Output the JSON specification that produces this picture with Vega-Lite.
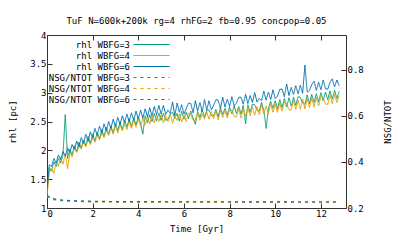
{
  "$schema": "https://vega.github.io/schema/vega-lite/v6.json",
  "width": 299,
  "height": 173,
  "autosize": "none",
  "padding": {"left": 47, "top": 35, "right": 61, "bottom": 36},
  "background": "white",
  "title": {"text": "TuF N=600k+200k rg=4 rhFG=2 fb=0.95 concpop=0.05", "font": "DejaVu Sans Mono", "fontSize": 9, "fontWeight": "normal", "color": "#000", "anchor": "middle", "offset": 5},
  "config": {
    "view": {"stroke": "#333", "strokeWidth": 1},
    "axis": {"labelFont": "DejaVu Sans Mono", "labelFontSize": 9, "titleFont": "DejaVu Sans Mono", "titleFontSize": 9, "titleFontWeight": "normal", "labelColor": "#000", "titleColor": "#000", "tickColor": "#333", "domain": false, "grid": false, "tickSize": -5, "labelPadding": 6},
    "legend": {"labelFont": "DejaVu Sans Mono", "labelFontSize": 9, "labelColor": "#000"}
  },
  "datasets": {
    "rhl": [
      {"t":0.0,"g":1.25,"o":1.2,"b":1.3},
      {"t":0.1,"g":1.7,"o":1.62,"b":1.75},
      {"t":0.2,"g":1.64,"o":1.68,"b":1.72},
      {"t":0.3,"g":1.8,"o":1.6,"b":1.86},
      {"t":0.4,"g":1.72,"o":1.8,"b":1.78},
      {"t":0.5,"g":1.86,"o":1.72,"b":1.92},
      {"t":0.6,"g":1.78,"o":1.88,"b":1.84},
      {"t":0.7,"g":1.92,"o":1.76,"b":1.98},
      {"t":0.8,"g":2.62,"o":1.94,"b":1.9},
      {"t":0.9,"g":1.86,"o":1.68,"b":2.04},
      {"t":1.0,"g":2.02,"o":1.96,"b":1.96},
      {"t":1.1,"g":1.92,"o":1.88,"b":2.1},
      {"t":1.2,"g":2.08,"o":2.04,"b":2.02},
      {"t":1.3,"g":1.98,"o":1.96,"b":2.16},
      {"t":1.4,"g":2.14,"o":2.08,"b":2.06},
      {"t":1.5,"g":2.04,"o":2.02,"b":2.22},
      {"t":1.6,"g":2.18,"o":2.14,"b":2.12},
      {"t":1.7,"g":2.08,"o":2.06,"b":2.28},
      {"t":1.8,"g":2.24,"o":2.18,"b":2.16},
      {"t":1.9,"g":2.12,"o":2.1,"b":2.32},
      {"t":2.0,"g":2.28,"o":2.22,"b":2.22},
      {"t":2.1,"g":2.16,"o":2.14,"b":2.38},
      {"t":2.2,"g":2.31,"o":2.27,"b":2.26},
      {"t":2.3,"g":2.2,"o":2.18,"b":2.42},
      {"t":2.4,"g":2.36,"o":2.3,"b":2.3},
      {"t":2.5,"g":2.24,"o":2.22,"b":2.46},
      {"t":2.6,"g":2.4,"o":2.34,"b":2.34},
      {"t":2.7,"g":2.28,"o":2.26,"b":2.5},
      {"t":2.8,"g":2.42,"o":2.38,"b":2.38},
      {"t":2.9,"g":2.3,"o":2.28,"b":2.54},
      {"t":3.0,"g":2.46,"o":2.42,"b":2.42},
      {"t":3.1,"g":2.34,"o":2.3,"b":2.57},
      {"t":3.2,"g":2.48,"o":2.44,"b":2.45},
      {"t":3.3,"g":2.36,"o":2.34,"b":2.6},
      {"t":3.4,"g":2.52,"o":2.46,"b":2.48},
      {"t":3.5,"g":2.4,"o":2.36,"b":2.63},
      {"t":3.6,"g":2.54,"o":2.5,"b":2.5},
      {"t":3.7,"g":2.41,"o":2.38,"b":2.65},
      {"t":3.8,"g":2.56,"o":2.52,"b":2.52},
      {"t":3.9,"g":2.44,"o":2.4,"b":2.68},
      {"t":4.0,"g":2.58,"o":2.54,"b":2.54},
      {"t":4.1,"g":2.46,"o":2.42,"b":2.7},
      {"t":4.2,"g":2.28,"o":2.56,"b":2.56},
      {"t":4.3,"g":2.6,"o":2.44,"b":2.72},
      {"t":4.4,"g":2.48,"o":2.58,"b":2.58},
      {"t":4.5,"g":2.62,"o":2.46,"b":2.74},
      {"t":4.6,"g":2.5,"o":2.6,"b":2.6},
      {"t":4.7,"g":2.64,"o":2.48,"b":2.76},
      {"t":4.8,"g":2.51,"o":2.61,"b":2.62},
      {"t":4.9,"g":2.65,"o":2.5,"b":2.78},
      {"t":5.0,"g":2.52,"o":2.62,"b":2.63},
      {"t":5.1,"g":2.64,"o":2.48,"b":2.78},
      {"t":5.2,"g":2.52,"o":2.6,"b":2.62},
      {"t":5.3,"g":2.54,"o":2.5,"b":2.7},
      {"t":5.4,"g":2.63,"o":2.62,"b":2.64},
      {"t":5.5,"g":2.66,"o":2.47,"b":2.84},
      {"t":5.6,"g":2.55,"o":2.59,"b":2.6},
      {"t":5.7,"g":2.64,"o":2.52,"b":2.82},
      {"t":5.8,"g":2.51,"o":2.63,"b":2.66},
      {"t":5.9,"g":2.68,"o":2.49,"b":2.79},
      {"t":6.0,"g":2.54,"o":2.61,"b":2.63},
      {"t":6.1,"g":2.66,"o":2.5,"b":2.72},
      {"t":6.2,"g":2.55,"o":2.64,"b":2.82},
      {"t":6.3,"g":2.68,"o":2.62,"b":2.81},
      {"t":6.4,"g":2.56,"o":2.52,"b":2.65},
      {"t":6.5,"g":2.45,"o":2.53,"b":2.86},
      {"t":6.6,"g":2.67,"o":2.65,"b":2.68},
      {"t":6.7,"g":2.57,"o":2.52,"b":2.83},
      {"t":6.8,"g":2.7,"o":2.63,"b":2.67},
      {"t":6.9,"g":2.58,"o":2.54,"b":2.88},
      {"t":7.0,"g":2.69,"o":2.66,"b":2.7},
      {"t":7.1,"g":2.7,"o":2.54,"b":2.86},
      {"t":7.2,"g":2.6,"o":2.67,"b":2.7},
      {"t":7.3,"g":2.6,"o":2.55,"b":2.78},
      {"t":7.4,"g":2.71,"o":2.68,"b":2.88},
      {"t":7.5,"g":2.58,"o":2.53,"b":2.87},
      {"t":7.6,"g":2.74,"o":2.69,"b":2.73},
      {"t":7.7,"g":2.62,"o":2.57,"b":2.92},
      {"t":7.8,"g":2.73,"o":2.7,"b":2.75},
      {"t":7.9,"g":2.61,"o":2.56,"b":2.89},
      {"t":8.0,"g":2.75,"o":2.71,"b":2.76},
      {"t":8.1,"g":2.63,"o":2.7,"b":2.93},
      {"t":8.2,"g":2.77,"o":2.59,"b":2.77},
      {"t":8.3,"g":2.64,"o":2.58,"b":2.82},
      {"t":8.4,"g":2.76,"o":2.72,"b":2.92},
      {"t":8.5,"g":2.63,"o":2.56,"b":2.92},
      {"t":8.6,"g":2.78,"o":2.73,"b":2.8},
      {"t":8.7,"g":2.46,"o":2.59,"b":2.97},
      {"t":8.8,"g":2.79,"o":2.74,"b":2.81},
      {"t":8.9,"g":2.66,"o":2.6,"b":2.95},
      {"t":9.0,"g":2.8,"o":2.75,"b":2.83},
      {"t":9.1,"g":2.79,"o":2.61,"b":3.0},
      {"t":9.2,"g":2.69,"o":2.76,"b":2.84},
      {"t":9.3,"g":2.68,"o":2.62,"b":2.9},
      {"t":9.4,"g":2.83,"o":2.78,"b":2.86},
      {"t":9.5,"g":2.7,"o":2.63,"b":3.03},
      {"t":9.6,"g":2.38,"o":2.77,"b":2.87},
      {"t":9.7,"g":2.72,"o":2.64,"b":3.01},
      {"t":9.8,"g":2.85,"o":2.8,"b":2.88},
      {"t":9.9,"g":2.73,"o":2.66,"b":3.05},
      {"t":10.0,"g":2.86,"o":2.81,"b":2.9},
      {"t":10.1,"g":2.72,"o":2.66,"b":2.94},
      {"t":10.2,"g":2.88,"o":2.82,"b":3.06},
      {"t":10.3,"g":2.74,"o":2.68,"b":3.06},
      {"t":10.4,"g":2.9,"o":2.84,"b":2.93},
      {"t":10.5,"g":2.75,"o":2.81,"b":3.15},
      {"t":10.6,"g":2.91,"o":2.7,"b":2.95},
      {"t":10.7,"g":2.77,"o":2.7,"b":3.09},
      {"t":10.8,"g":2.92,"o":2.86,"b":2.97},
      {"t":10.9,"g":2.78,"o":2.71,"b":3.12},
      {"t":11.0,"g":2.93,"o":2.87,"b":2.98},
      {"t":11.1,"g":2.92,"o":2.71,"b":3.13},
      {"t":11.2,"g":2.82,"o":2.89,"b":2.99},
      {"t":11.3,"g":2.8,"o":2.72,"b":3.48},
      {"t":11.4,"g":2.96,"o":2.9,"b":3.01},
      {"t":11.5,"g":2.81,"o":2.74,"b":3.04},
      {"t":11.6,"g":2.97,"o":2.91,"b":3.14},
      {"t":11.7,"g":2.83,"o":2.75,"b":3.2},
      {"t":11.8,"g":2.98,"o":2.92,"b":3.04},
      {"t":11.9,"g":2.84,"o":2.77,"b":3.18},
      {"t":12.0,"g":3.0,"o":2.93,"b":3.05},
      {"t":12.1,"g":2.86,"o":2.92,"b":3.22},
      {"t":12.2,"g":3.01,"o":2.8,"b":3.07},
      {"t":12.3,"g":2.88,"o":2.8,"b":3.06},
      {"t":12.4,"g":3.03,"o":2.96,"b":3.18},
      {"t":12.5,"g":2.89,"o":2.81,"b":3.24},
      {"t":12.6,"g":3.04,"o":2.97,"b":3.1},
      {"t":12.7,"g":2.9,"o":2.83,"b":3.22},
      {"t":12.8,"g":3.02,"o":2.95,"b":3.12}
    ],
    "nsg": [
      {"t":0.0,"ng":0.252,"no":0.25,"nb":0.254},
      {"t":0.2,"ng":0.24,"no":0.238,"nb":0.242},
      {"t":0.5,"ng":0.234,"no":0.232,"nb":0.235},
      {"t":1.0,"ng":0.231,"no":0.229,"nb":0.232},
      {"t":1.5,"ng":0.229,"no":0.228,"nb":0.23},
      {"t":2.0,"ng":0.228,"no":0.226,"nb":0.229},
      {"t":3.0,"ng":0.227,"no":0.226,"nb":0.228},
      {"t":4.0,"ng":0.226,"no":0.225,"nb":0.228},
      {"t":5.0,"ng":0.227,"no":0.225,"nb":0.227},
      {"t":6.0,"ng":0.226,"no":0.225,"nb":0.227},
      {"t":7.0,"ng":0.226,"no":0.224,"nb":0.227},
      {"t":8.0,"ng":0.226,"no":0.225,"nb":0.227},
      {"t":9.0,"ng":0.226,"no":0.224,"nb":0.226},
      {"t":10.0,"ng":0.226,"no":0.225,"nb":0.227},
      {"t":11.0,"ng":0.225,"no":0.224,"nb":0.226},
      {"t":12.0,"ng":0.226,"no":0.224,"nb":0.226},
      {"t":12.8,"ng":0.225,"no":0.224,"nb":0.226}
    ]
  },
  "layer": [
    {
      "data": {"name": "rhl"},
      "transform": [{"fold": ["g", "o", "b"], "as": ["k", "v"]}],
      "mark": {"type": "line", "strokeWidth": 1, "clip": true},
      "encoding": {
        "x": {"field": "t", "type": "quantitative", "scale": {"domain": [0, 13.1], "nice": false, "zero": false}, "axis": {"values": [0, 2, 4, 6, 8, 10, 12], "title": "Time [Gyr]", "titlePadding": 6}},
        "y": {"field": "v", "type": "quantitative", "scale": {"domain": [1, 4], "nice": false, "zero": false}, "axis": {"values": [1, 1.5, 2, 2.5, 3, 3.5, 4], "format": "~g", "title": "rhl [pc]", "titlePadding": 12}},
        "color": {"field": "k", "type": "nominal", "scale": {"domain": ["g", "o", "b", "ng", "no", "nb"], "range": ["#009e73", "#e69f00", "#0072b2", "#009e73", "#e69f00", "#0072b2"]},
          "legend": {"title": null, "orient": "none", "legendX": 0, "legendY": 4, "padding": 0, "rowPadding": -1.7, "symbolType": "M-4,0H4", "symbolSize": 81, "symbolStrokeWidth": 1.2, "symbolOffset": 99, "labelAlign": "right", "labelOffset": -27,
            "labelExpr": "{'g':'rhl WBFG=3','o':'rhl WBFG=4','b':'rhl WBFG=6','ng':'NSG/NTOT WBFG=3','no':'NSG/NTOT WBFG=4','nb':'NSG/NTOT WBFG=6'}[datum.value]"}},
        "strokeDash": {"field": "k", "type": "nominal", "scale": {"domain": ["g", "o", "b", "ng", "no", "nb"], "range": [[1, 0], [1, 0], [1, 0], [3, 4], [3, 4], [3, 4]]},
          "legend": {"title": null, "orient": "none", "legendX": 0, "legendY": 4, "padding": 0, "rowPadding": -1.7, "symbolType": "M-4,0H4", "symbolSize": 81, "symbolStrokeWidth": 1.2, "symbolOffset": 99, "labelAlign": "right", "labelOffset": -27,
            "labelExpr": "{'g':'rhl WBFG=3','o':'rhl WBFG=4','b':'rhl WBFG=6','ng':'NSG/NTOT WBFG=3','no':'NSG/NTOT WBFG=4','nb':'NSG/NTOT WBFG=6'}[datum.value]"}}
      }
    },
    {
      "data": {"name": "nsg"},
      "transform": [{"fold": ["ng", "no", "nb"], "as": ["k", "v"]}],
      "mark": {"type": "line", "strokeWidth": 1.2, "clip": true},
      "encoding": {
        "x": {"field": "t", "type": "quantitative", "axis": {"orient": "top", "values": [0, 2, 4, 6, 8, 10, 12], "labels": false, "title": null}},
        "y": {"field": "v", "type": "quantitative", "scale": {"domain": [0.2, 0.95], "nice": false, "zero": false}, "axis": {"orient": "right", "values": [0.2, 0.4, 0.6, 0.8], "format": ".1f", "title": "NSG/NTOT", "titleAngle": 270, "titlePadding": 29}},
        "color": {"field": "k", "type": "nominal"},
        "strokeDash": {"field": "k", "type": "nominal"}
      }
    }
  ],
  "resolve": {"scale": {"y": "independent"}, "axis": {"x": "independent"}}
}
